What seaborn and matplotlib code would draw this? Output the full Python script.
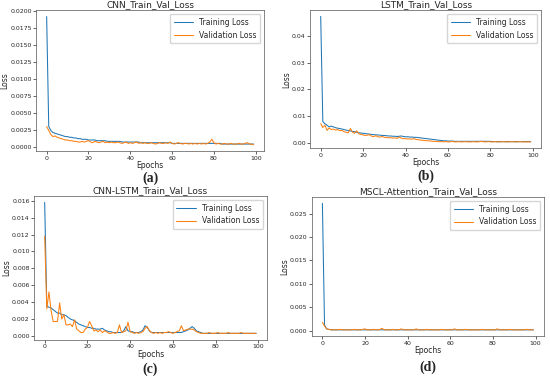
import matplotlib
matplotlib.use("Agg")
import matplotlib.pyplot as plt
import seaborn as sns
import pandas as pd

epochs = list(range(100))

cnn_train = [
    0.0192, 0.0030, 0.0024, 0.0021, 0.0020, 0.0019, 0.0018, 0.0017, 0.0016, 0.0015,
    0.0015, 0.0014, 0.0014, 0.0013, 0.0013, 0.0012, 0.0012, 0.0011, 0.0011, 0.0011,
    0.0010, 0.0010, 0.0010, 0.0010, 0.0009, 0.0009, 0.0009, 0.0009, 0.0009, 0.0008,
    0.0008, 0.0008, 0.0008, 0.0008, 0.0008, 0.0008, 0.0007, 0.0007, 0.0007, 0.0007,
    0.0007, 0.0007, 0.0007, 0.0007, 0.0007, 0.0006, 0.0006, 0.0006, 0.0006, 0.0006,
    0.0006, 0.0006, 0.0006, 0.0006, 0.0006, 0.0006, 0.0006, 0.0006, 0.0006, 0.0006,
    0.0005, 0.0005, 0.0005, 0.0005, 0.0005, 0.0005, 0.0005, 0.0005, 0.0005, 0.0005,
    0.0005, 0.0005, 0.0005, 0.0005, 0.0005, 0.0005, 0.0005, 0.0005, 0.0005, 0.0005,
    0.0005, 0.0005, 0.0005, 0.0005, 0.0004, 0.0004, 0.0004, 0.0004, 0.0004, 0.0004,
    0.0004, 0.0004, 0.0004, 0.0004, 0.0004, 0.0004, 0.0004, 0.0004, 0.0004, 0.0004,
]
cnn_val = [
    0.0030, 0.0024, 0.0018, 0.0015, 0.0016, 0.0014, 0.0013, 0.0012, 0.0011, 0.0010,
    0.0010, 0.0009, 0.0009, 0.0008, 0.0008, 0.0007, 0.0007, 0.0008, 0.0007, 0.0008,
    0.0009, 0.0007, 0.0006, 0.0008, 0.0007, 0.0006, 0.0007, 0.0008, 0.0006, 0.0007,
    0.0006, 0.0007, 0.0006, 0.0006, 0.0007, 0.0006, 0.0005, 0.0006, 0.0007, 0.0005,
    0.0006, 0.0005, 0.0006, 0.0007, 0.0005, 0.0006, 0.0005, 0.0006, 0.0005, 0.0005,
    0.0006, 0.0005, 0.0004, 0.0005, 0.0006, 0.0005, 0.0005, 0.0006, 0.0005, 0.0007,
    0.0005, 0.0004, 0.0005, 0.0006, 0.0005, 0.0004, 0.0005, 0.0005, 0.0004, 0.0005,
    0.0004, 0.0005, 0.0004, 0.0005, 0.0004, 0.0005, 0.0004, 0.0005, 0.0007, 0.0011,
    0.0006, 0.0004, 0.0005, 0.0004, 0.0004, 0.0005, 0.0004, 0.0004, 0.0005, 0.0004,
    0.0004, 0.0004, 0.0005, 0.0004, 0.0004, 0.0005, 0.0006, 0.0004, 0.0004, 0.0003,
]

lstm_train = [
    0.0473, 0.0080, 0.0072, 0.0066, 0.0060, 0.0063, 0.0060, 0.0057, 0.0055, 0.0054,
    0.0052, 0.0050, 0.0048, 0.0046, 0.0045, 0.0043, 0.0042, 0.0040, 0.0038, 0.0037,
    0.0036, 0.0035, 0.0034, 0.0033, 0.0032, 0.0031, 0.0030, 0.0030, 0.0029, 0.0028,
    0.0028, 0.0027, 0.0026, 0.0026, 0.0025, 0.0025, 0.0024, 0.0025, 0.0026, 0.0024,
    0.0023, 0.0023, 0.0022, 0.0022, 0.0021, 0.0021, 0.0020, 0.0019, 0.0018, 0.0017,
    0.0016, 0.0015, 0.0014, 0.0013, 0.0012, 0.0011, 0.0010, 0.0009, 0.0008, 0.0008,
    0.0007, 0.0007, 0.0007, 0.0006, 0.0006, 0.0006, 0.0006, 0.0006, 0.0006, 0.0006,
    0.0006, 0.0006, 0.0006, 0.0006, 0.0006, 0.0006, 0.0006, 0.0006, 0.0006, 0.0006,
    0.0006, 0.0005, 0.0005, 0.0005, 0.0005, 0.0005, 0.0005, 0.0005, 0.0005, 0.0005,
    0.0005, 0.0005, 0.0005, 0.0005, 0.0005, 0.0005, 0.0005, 0.0005, 0.0005, 0.0005,
]
lstm_val = [
    0.0072, 0.0058, 0.0066, 0.0047, 0.0056, 0.0050, 0.0052, 0.0048, 0.0050, 0.0046,
    0.0047, 0.0042, 0.0040, 0.0038, 0.0054, 0.0040, 0.0036, 0.0045, 0.0034, 0.0032,
    0.0030, 0.0028, 0.0029, 0.0031, 0.0025, 0.0024, 0.0027, 0.0023, 0.0022, 0.0024,
    0.0021, 0.0020, 0.0019, 0.0020, 0.0018, 0.0019, 0.0017, 0.0022, 0.0018, 0.0016,
    0.0016, 0.0015, 0.0015, 0.0014, 0.0016, 0.0013, 0.0012, 0.0011, 0.0010, 0.0009,
    0.0008, 0.0008, 0.0007, 0.0006, 0.0006, 0.0005, 0.0005, 0.0005, 0.0004, 0.0005,
    0.0004, 0.0004, 0.0006, 0.0004, 0.0004, 0.0005, 0.0004, 0.0004, 0.0005, 0.0004,
    0.0004, 0.0004, 0.0005, 0.0004, 0.0004, 0.0005, 0.0006, 0.0004, 0.0004, 0.0005,
    0.0004, 0.0004, 0.0005, 0.0004, 0.0004, 0.0004, 0.0005, 0.0004, 0.0004, 0.0004,
    0.0005, 0.0004, 0.0004, 0.0004, 0.0005, 0.0004, 0.0004, 0.0004, 0.0004, 0.0004,
]

cnnlstm_train = [
    0.0158, 0.0035, 0.0034, 0.0033, 0.0031, 0.0029, 0.0027, 0.0027, 0.0025, 0.0025,
    0.0024, 0.0022, 0.0020, 0.0019, 0.0018, 0.0016, 0.0014, 0.0013, 0.0012, 0.0011,
    0.0010, 0.0010, 0.0009, 0.0009, 0.0008, 0.0008, 0.0008, 0.0009, 0.0007, 0.0006,
    0.0005, 0.0005, 0.0004, 0.0004, 0.0004, 0.0004, 0.0004, 0.0006, 0.0011, 0.0006,
    0.0005, 0.0005, 0.0004, 0.0004, 0.0004, 0.0005, 0.0007, 0.0012, 0.0010, 0.0006,
    0.0004, 0.0004, 0.0004, 0.0004, 0.0004, 0.0004, 0.0004, 0.0004, 0.0004, 0.0004,
    0.0004, 0.0004, 0.0004, 0.0004, 0.0004, 0.0005, 0.0006, 0.0007, 0.0009, 0.0011,
    0.0009, 0.0006, 0.0005, 0.0004, 0.0003, 0.0003, 0.0003, 0.0003, 0.0003, 0.0003,
    0.0003, 0.0003, 0.0003, 0.0003, 0.0003, 0.0003, 0.0003, 0.0003, 0.0003, 0.0003,
    0.0003, 0.0003, 0.0003, 0.0003, 0.0003, 0.0003, 0.0003, 0.0003, 0.0003, 0.0003,
]
cnnlstm_val = [
    0.0118, 0.0032, 0.0052, 0.0030, 0.0017, 0.0017, 0.0017, 0.0039, 0.0020, 0.0025,
    0.0013, 0.0013, 0.0014, 0.0011, 0.0019, 0.0008, 0.0006, 0.0004, 0.0004, 0.0008,
    0.0010, 0.0017, 0.0012, 0.0006, 0.0007, 0.0005, 0.0007, 0.0004, 0.0006, 0.0005,
    0.0003, 0.0003, 0.0004, 0.0003, 0.0004, 0.0013, 0.0004, 0.0005, 0.0006, 0.0016,
    0.0005, 0.0004, 0.0003, 0.0004, 0.0003, 0.0004, 0.0005, 0.0009, 0.0011, 0.0006,
    0.0004, 0.0003, 0.0004, 0.0003, 0.0004, 0.0003, 0.0004, 0.0004, 0.0005, 0.0004,
    0.0003, 0.0004, 0.0005, 0.0006, 0.0012, 0.0006, 0.0007, 0.0008, 0.0008, 0.0008,
    0.0007, 0.0005, 0.0004, 0.0003, 0.0003, 0.0003, 0.0003, 0.0004, 0.0003, 0.0003,
    0.0003, 0.0004, 0.0003, 0.0003, 0.0003, 0.0003, 0.0004, 0.0003, 0.0003, 0.0003,
    0.0003, 0.0003, 0.0004, 0.0003, 0.0003, 0.0003, 0.0003, 0.0003, 0.0003, 0.0003,
]

mscl_train = [
    0.0272, 0.0012, 0.0004, 0.0003, 0.0002, 0.0002, 0.0002, 0.0002, 0.0002, 0.0002,
    0.0002, 0.0002, 0.0002, 0.0002, 0.0002, 0.0002, 0.0002, 0.0002, 0.0002, 0.0002,
    0.0002, 0.0002, 0.0002, 0.0002, 0.0002, 0.0002, 0.0002, 0.0002, 0.0002, 0.0002,
    0.0002, 0.0002, 0.0002, 0.0002, 0.0002, 0.0002, 0.0002, 0.0002, 0.0002, 0.0002,
    0.0002, 0.0002, 0.0002, 0.0002, 0.0002, 0.0002, 0.0002, 0.0002, 0.0002, 0.0002,
    0.0002, 0.0002, 0.0002, 0.0002, 0.0002, 0.0002, 0.0002, 0.0002, 0.0002, 0.0002,
    0.0002, 0.0002, 0.0002, 0.0002, 0.0002, 0.0002, 0.0002, 0.0002, 0.0002, 0.0002,
    0.0002, 0.0002, 0.0002, 0.0002, 0.0002, 0.0002, 0.0002, 0.0002, 0.0002, 0.0002,
    0.0002, 0.0002, 0.0002, 0.0002, 0.0002, 0.0002, 0.0002, 0.0002, 0.0002, 0.0002,
    0.0002, 0.0002, 0.0002, 0.0002, 0.0002, 0.0002, 0.0002, 0.0002, 0.0002, 0.0002,
]
mscl_val = [
    0.0018, 0.0010, 0.0004, 0.0003, 0.0002, 0.0002, 0.0002, 0.0002, 0.0003, 0.0002,
    0.0002, 0.0002, 0.0002, 0.0002, 0.0002, 0.0003, 0.0002, 0.0002, 0.0002, 0.0003,
    0.0004, 0.0002, 0.0002, 0.0002, 0.0003, 0.0002, 0.0002, 0.0003, 0.0005, 0.0002,
    0.0002, 0.0002, 0.0002, 0.0003, 0.0002, 0.0002, 0.0002, 0.0004, 0.0002, 0.0002,
    0.0002, 0.0002, 0.0002, 0.0002, 0.0004, 0.0002, 0.0002, 0.0002, 0.0002, 0.0003,
    0.0002, 0.0002, 0.0002, 0.0002, 0.0002, 0.0002, 0.0003, 0.0002, 0.0002, 0.0002,
    0.0002, 0.0002, 0.0004, 0.0002, 0.0002, 0.0002, 0.0002, 0.0003, 0.0002, 0.0002,
    0.0002, 0.0002, 0.0002, 0.0002, 0.0002, 0.0003, 0.0002, 0.0002, 0.0002, 0.0002,
    0.0002, 0.0002, 0.0004, 0.0002, 0.0002, 0.0002, 0.0002, 0.0002, 0.0003, 0.0002,
    0.0002, 0.0002, 0.0002, 0.0002, 0.0002, 0.0002, 0.0003, 0.0002, 0.0002, 0.0002,
]

# title, train, val, tag, axes rect, tag y (fig fraction), y ticks
panels = [
    ("CNN_Train_Val_Loss", cnn_train, cnn_val, "(a)",
     [0.066, 0.598, 0.414, 0.375], 0.527,
     [0, 0.0025, 0.005, 0.0075, 0.01, 0.0125, 0.015, 0.0175, 0.02]),
    ("LSTM_Train_Val_Loss", lstm_train, lstm_val, "(b)",
     [0.564, 0.606, 0.420, 0.367], 0.530,
     [0, 0.01, 0.02, 0.03, 0.04]),
    ("CNN-LSTM_Train_Val_Loss", cnnlstm_train, cnnlstm_val, "(c)",
     [0.062, 0.096, 0.423, 0.383], 0.018,
     [0, 0.002, 0.004, 0.006, 0.008, 0.01, 0.012, 0.014, 0.016]),
    ("MSCL-Attention_Train_Val_Loss", mscl_train, mscl_val, "(d)",
     [0.567, 0.106, 0.422, 0.370], 0.023,
     [0, 0.005, 0.01, 0.015, 0.02, 0.025]),
]

sns.set_style("ticks")
plt.rcParams["font.family"] = ["DejaVu Sans"]

fig = plt.figure(figsize=(5.5, 3.76), dpi=100)

for title, train, val, tag, pos, tag_y, yt in panels:
    ax = fig.add_axes(pos)
    df = pd.DataFrame({"Epochs": epochs + epochs,
                       "Loss": train + val,
                       "kind": ["Training Loss"] * 100 + ["Validation Loss"] * 100})
    sns.lineplot(data=df, x="Epochs", y="Loss", hue="kind",
                 palette=["#1f77b4", "#ff7f0e"], linewidth=0.75, ax=ax)
    ax.set_title(title, fontsize=6.5, pad=2)
    ax.set_xlabel("Epochs", fontsize=5.5, labelpad=0.5)
    ax.set_ylabel("Loss", fontsize=5.5, labelpad=0.5)
    ax.set_xticks([0, 20, 40, 60, 80, 100])
    ax.set_yticks(yt)
    ax.tick_params(labelsize=4.5, length=2, width=0.5, pad=1.2)
    for s in ax.spines.values():
        s.set_linewidth(0.5)
        s.set_color("#555555")
    ax.legend(title=None, fontsize=5.5, loc="upper right", frameon=True,
              handlelength=2.5, borderpad=0.5)
    fig.text(pos[0] + pos[2] / 2, tag_y, tag, ha="center", va="center",
             fontsize=10, fontweight="bold", family=["Liberation Serif", "DejaVu Serif"])

fig.savefig("out.png", dpi=100)
